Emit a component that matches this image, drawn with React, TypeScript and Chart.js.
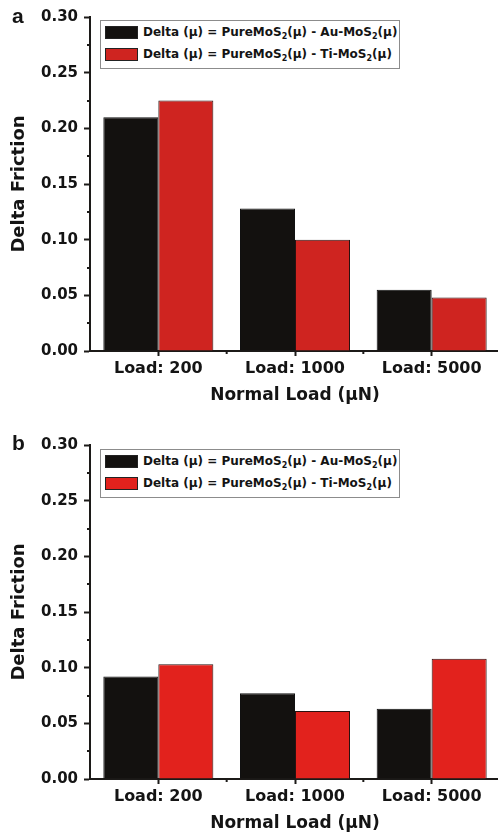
import React, { useEffect, useRef } from 'react';
import { Chart, registerables } from 'chart.js';
Chart.register(...registerables);

const categories = ['Load: 200', 'Load: 1000', 'Load: 5000'];
const panelAAu = [0.21, 0.128, 0.055];
const panelATi = [0.225, 0.1, 0.048];
const panelBAu = [0.092, 0.077, 0.063];
const panelBTi = [0.103, 0.061, 0.108];
const yMin = 0;
const yMax = 0.3;
const yStep = 0.05;
const MU = '\u03bc';
const xTitle = 'Normal Load (' + MU + 'N)';
const yTitle = 'Delta Friction';
const legendNames = ['Au-MoS', 'Ti-MoS'];

const W = 500;
const H = 418;
const AXIS = '#1c1a18';
const TEXT = '#141414';
const BLACK = '#13110f';
const FONT = '"Liberation Sans", Arial, sans-serif';
const WIDE = '"DejaVu Sans", sans-serif';

const minorTicks = {
  id: 'minorTicks',
  afterDraw(chart: any) {
    const { ctx, scales, chartArea } = chart;
    const x = scales.x;
    const y = scales.y;
    ctx.save();
    ctx.strokeStyle = AXIS;
    ctx.lineWidth = 2;
    for (let v = yMin + yStep / 2; v < yMax; v += yStep) {
      const py = Math.round(y.getPixelForValue(v));
      ctx.beginPath();
      ctx.moveTo(chartArea.left - 3, py);
      ctx.lineTo(chartArea.left, py);
      ctx.stroke();
    }
    for (let i = 0; i < categories.length - 1; i++) {
      const px = (x.getPixelForValue(i) + x.getPixelForValue(i + 1)) / 2;
      ctx.beginPath();
      ctx.moveTo(px, chartArea.bottom);
      ctx.lineTo(px, chartArea.bottom + 3);
      ctx.stroke();
    }
    ctx.restore();
  },
};

function Panel({ au, ti, red }: { au: number[]; ti: number[]; red: string }) {
  const ref = useRef<HTMLCanvasElement | null>(null);
  useEffect(() => {
    if (!ref.current) return;
    const chart = new Chart(ref.current, {
      type: 'bar',
      data: {
        labels: categories,
        datasets: [
          {
            label: legendNames[0],
            data: au,
            backgroundColor: BLACK,
            borderColor: '#111',
            borderWidth: 1,
            categoryPercentage: 0.805,
            barPercentage: 1,
          },
          {
            label: legendNames[1],
            data: ti,
            backgroundColor: red,
            borderColor: '#2a1210',
            borderWidth: 1,
            categoryPercentage: 0.805,
            barPercentage: 1,
          },
        ],
      },
      options: {
        responsive: false,
        animation: false,
        layout: { padding: { top: 17, left: 0, right: 0, bottom: 0 } },
        plugins: { legend: { display: false }, tooltip: { enabled: false } },
        scales: {
          x: {
            type: 'category',
            grid: {
              offset: false,
              drawOnChartArea: false,
              drawTicks: true,
              tickLength: 5,
              tickWidth: 2,
              tickColor: AXIS,
            },
            border: { display: true, color: AXIS, width: 2 },
            ticks: {
              color: TEXT,
              font: { family: WIDE, weight: 'bold', size: 16 },
              padding: 3,
              maxRotation: 0,
              autoSkip: false,
            },
            title: {
              display: true,
              text: xTitle,
              color: TEXT,
              font: { family: WIDE, weight: 'bold', size: 17 },
              padding: { top: 0, bottom: 12 },
            },
            afterFit: (s: any) => {
              s.height = H - 351;
            },
          },
          y: {
            min: yMin,
            max: yMax,
            ticks: {
              stepSize: yStep,
              callback: (v: any) => Number(v).toFixed(2),
              color: TEXT,
              font: { family: WIDE, weight: 'bold', size: 15 },
              padding: 6,
            },
            grid: {
              drawOnChartArea: false,
              tickLength: 6,
              tickWidth: 2,
              tickColor: AXIS,
            },
            border: { display: true, color: AXIS, width: 2 },
            title: {
              display: true,
              text: yTitle,
              color: TEXT,
              font: { family: WIDE, weight: 'bold', size: 18 },
              padding: { top: 9, bottom: 0 },
            },
            afterFit: (s: any) => {
              s.width = 90;
            },
          },
        },
      },
      plugins: [minorTicks],
    } as any);
    return () => chart.destroy();
  }, [au, ti, red]);
  return <canvas ref={ref} width={W} height={H} style={{ display: 'block', width: W, height: H }} />;
}

function LegendRow({ color, name }: { color: string; name: string }) {
  const sub = { fontSize: 8, verticalAlign: 'sub' as const, lineHeight: 0 };
  return (
    <div style={{ display: 'flex', alignItems: 'center', height: 22 }}>
      <div
        style={{
          width: 33,
          height: 13,
          flexShrink: 0,
          background: color,
          marginLeft: 4,
          marginRight: 5,
          border: '1px solid #222',
          boxSizing: 'border-box',
        }}
      />
      <span style={{ whiteSpace: 'nowrap' }}>
        {'Delta (' + MU + ') = PureMoS'}
        <span style={sub}>2</span>
        {'(' + MU + ') - ' + name}
        <span style={sub}>2</span>
        {'(' + MU + ')'}
      </span>
    </div>
  );
}

function Legend({ top, red }: { top: number; red: string }) {
  return (
    <div
      style={{
        position: 'absolute',
        left: 100,
        top,
        width: 300,
        height: 49,
        border: '1px solid #8c8c8c',
        boxSizing: 'border-box',
        background: '#fff',
        font: `bold 12px ${WIDE}`,
        color: TEXT,
        paddingTop: 0,
        lineHeight: 1,
      }}
    >
      <LegendRow color={BLACK} name={legendNames[0]} />
      <LegendRow color={red} name={legendNames[1]} />
    </div>
  );
}

export default function App() {
  const redA = '#cf2420';
  const redB = '#e2221d';
  return (
    <div style={{ position: 'absolute', left: 0, top: 0, width: 498, height: 836, overflow: 'hidden', background: '#fff' }}>
      <div style={{ position: 'absolute', left: 0, top: 0 }}>
        <Panel au={panelAAu} ti={panelATi} red={redA} />
      </div>
      <div style={{ position: 'absolute', left: 0, top: 428 }}>
        <Panel au={panelBAu} ti={panelBTi} red={redB} />
      </div>
      <Legend top={20} red={redA} />
      <Legend top={449} red={redB} />
      <div style={{ position: 'absolute', left: 12, top: 5, font: `bold 21px ${FONT}`, color: TEXT, lineHeight: 1 }}>a</div>
      <div style={{ position: 'absolute', left: 12, top: 432, font: `bold 21px ${FONT}`, color: TEXT, lineHeight: 1 }}>b</div>
    </div>
  );
}
